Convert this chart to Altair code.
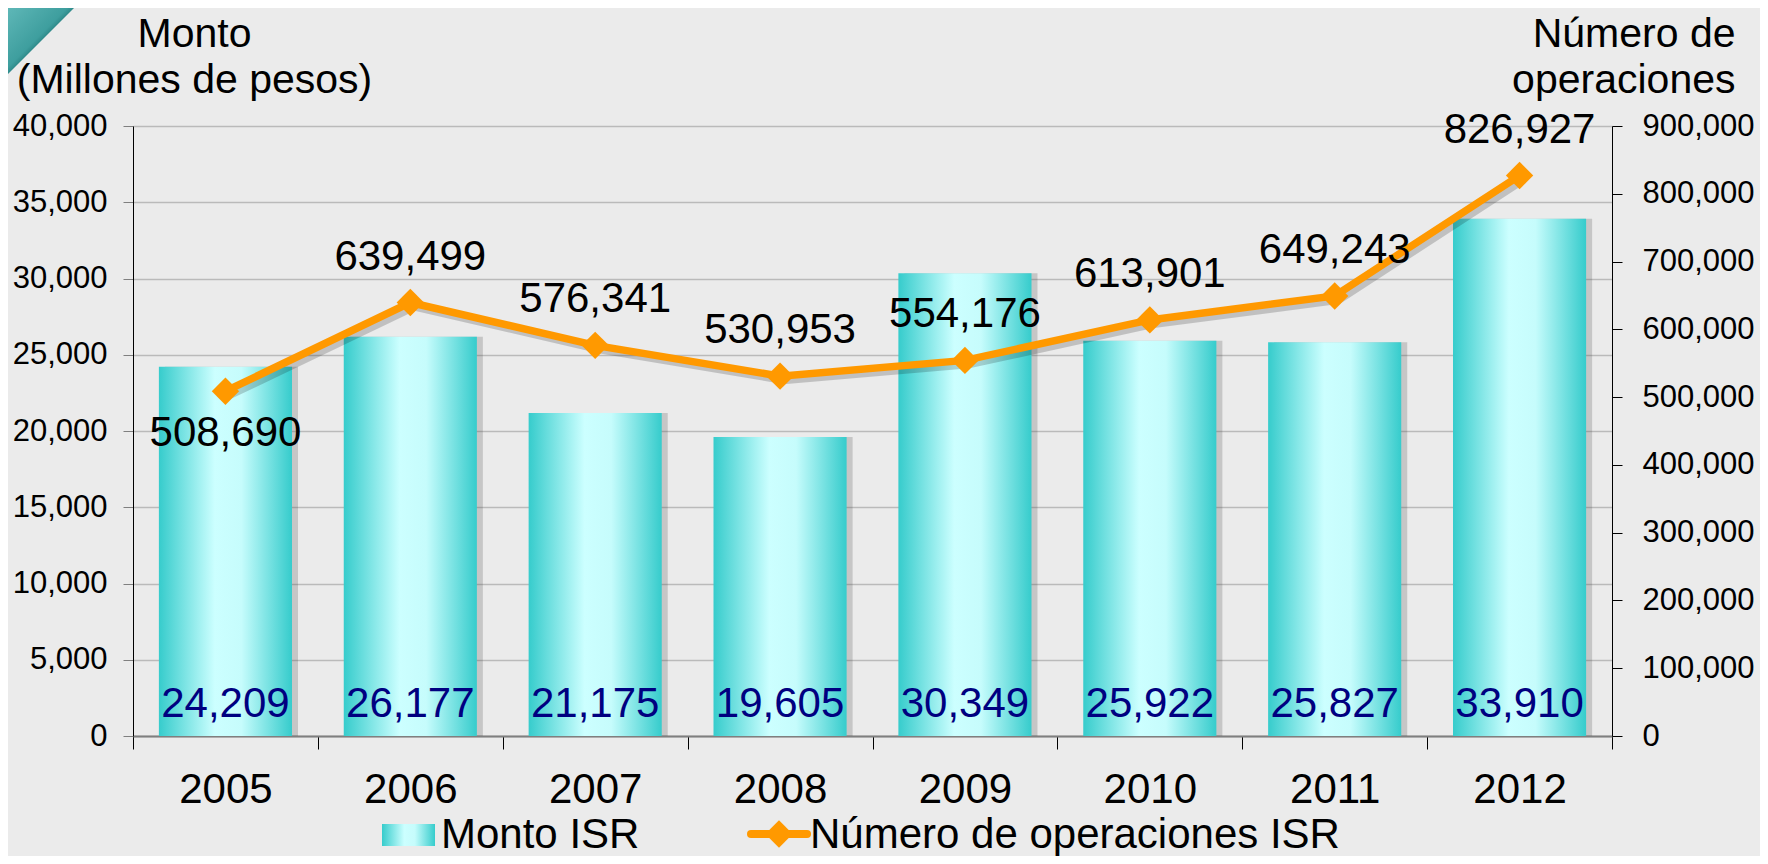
import altair as alt
import pandas as pd

years = ["2005", "2006", "2007", "2008", "2009", "2010", "2011", "2012"]
monto = [24209, 26177, 21175, 19605, 30349, 25922, 25827, 33910]
operaciones = [508690, 639499, 576341, 530953, 554176, 613901, 649243, 826927]
label_side = ["below", "above", "above", "above", "above", "above", "above", "above"]

df = pd.DataFrame({"year": years, "monto": monto, "ops": operaciones, "side": label_side})
one = pd.DataFrame({"k": [0]})

FONT = "Liberation Sans"
ORANGE = "#FF9900"

bar_gradient = alt.Gradient(
    gradient="linear", x1=0, x2=1, y1=0, y2=0,
    stops=[
        alt.GradientStop(offset=0, color="#36CCCC"),
        alt.GradientStop(offset=0.42, color="#CCFFFF"),
        alt.GradientStop(offset=0.62, color="#C6FCFC"),
        alt.GradientStop(offset=1, color="#36CCCC"),
    ],
)
corner_gradient = alt.Gradient(
    gradient="linear", x1=0, x2=1, y1=0, y2=1,
    stops=[
        alt.GradientStop(offset=0, color="#5FB8B8"),
        alt.GradientStop(offset=0.45, color="#3E9E9E"),
        alt.GradientStop(offset=0.5, color="#2E8A8A"),
        alt.GradientStop(offset=1, color="#2E8A8A"),
    ],
)

x_enc = alt.X(
    "year:N", sort=years,
    scale=alt.Scale(paddingInner=0, paddingOuter=0),
    axis=alt.Axis(title=None, labelFontSize=42, labelAngle=0, tickBand="extent",
                  tickSize=13, tickColor="black", domainColor="#7f7f7f", domainWidth=2,
                  labelPadding=20, labelColor="black", grid=False, labelFont=FONT),
)

y_left = alt.Y(
    "monto:Q",
    scale=alt.Scale(domain=[0, 40000], nice=False),
    axis=alt.Axis(title=["Monto", "(Millones de pesos)"], titleAngle=0, titleAlign="center",
                  titleBaseline="alphabetic", titleX=61, titleY=-80, titleFontSize=41,
                  titleFontWeight="normal", titleLineHeight=46, titleColor="black", titleFont=FONT,
                  tickCount=8, format=",.0f", labelFontSize=31, labelPadding=16, labelColor="black",
                  labelFont=FONT, tickSize=10, tickColor="#7f7f7f", domainColor="black",
                  grid=True, gridColor="#BABABA", gridWidth=1.5),
)

y_right = alt.Y(
    "ops:Q",
    scale=alt.Scale(domain=[0, 900000], nice=False),
    axis=alt.Axis(orient="right", title=["Número de", "operaciones"], titleAngle=0, titleAlign="right",
                  titleBaseline="alphabetic", titleX=123, titleY=-80, titleFontSize=41,
                  titleFontWeight="normal", titleLineHeight=46, titleColor="black", titleFont=FONT,
                  tickCount=9, format=",.0f", labelFontSize=31, labelPadding=20, labelColor="black",
                  labelFont=FONT, tickSize=10, tickColor="black", domainColor="black", grid=False),
)

base = alt.Chart(df)

bar_shadow = base.mark_bar(width=alt.RelativeBandSize(0.72), xOffset=6, color="#444444", opacity=0.22).encode(x=x_enc, y=y_left)
bars = base.mark_bar(width=alt.RelativeBandSize(0.72), fill=bar_gradient, strokeWidth=0).encode(x=x_enc, y=y_left)
bar_labels = base.mark_text(baseline="alphabetic", dy=-19, fontSize=42, color="#000080", font=FONT).encode(
    x=x_enc, y=alt.YDatum(0), text=alt.Text("monto:Q", format=",")
)
left = alt.layer(bar_shadow, bars, bar_labels)

line_shadow = base.mark_line(color="#000000", opacity=0.18, strokeWidth=8, xOffset=4, yOffset=4).encode(x=x_enc, y=y_right)
line = base.mark_line(color=ORANGE, strokeWidth=7.5).encode(x=x_enc, y=y_right)
points = base.mark_point(shape="diamond", filled=True, size=750, color=ORANGE, opacity=1).encode(x=x_enc, y=y_right)
lab_above = base.transform_filter(alt.datum.side == "above").mark_text(
    baseline="alphabetic", dy=-33, fontSize=42, color="black", font=FONT
).encode(x=x_enc, y=y_right, text=alt.Text("ops:Q", format=","))
lab_below = base.transform_filter(alt.datum.side == "below").mark_text(
    baseline="alphabetic", dy=55, fontSize=42, color="black", font=FONT
).encode(x=x_enc, y=y_right, text=alt.Text("ops:Q", format=","))
right = alt.layer(line_shadow, line, points, lab_above, lab_below)

leg = alt.Chart(one)
corner = leg.mark_point(shape="M -1 -1 L 1 -1 L -1 1 Z", filled=True, size=4500, fill=corner_gradient,
                        opacity=1, strokeWidth=0).encode(x=alt.value(-92), y=alt.value(-85))
leg_rect = leg.mark_rect(fill=bar_gradient).encode(
    x=alt.value(249), x2=alt.value(302), y=alt.value(698), y2=alt.value(720)
)
leg_text1 = leg.mark_text(align="left", baseline="alphabetic", fontSize=42, font=FONT, color="black").encode(
    x=alt.value(308), y=alt.value(722), text=alt.value("Monto ISR")
)
leg_rule = leg.mark_rule(color=ORANGE, strokeWidth=8, strokeCap="round").encode(
    x=alt.value(618), x2=alt.value(674), y=alt.value(708)
)
leg_pt = leg.mark_point(shape="diamond", filled=True, size=750, color=ORANGE, opacity=1).encode(
    x=alt.value(646), y=alt.value(708)
)
leg_text2 = leg.mark_text(align="left", baseline="alphabetic", fontSize=42, font=FONT, color="black").encode(
    x=alt.value(677), y=alt.value(722), text=alt.value("Número de operaciones ISR")
)

chart = alt.layer(corner, left, right, leg_rect, leg_text1, leg_rule, leg_pt, leg_text2).resolve_scale(
    y="independent"
).properties(
    width=1479, height=610,
    autosize=alt.AutoSizeParams(type="none"),
    padding={"left": 125, "top": 118, "right": 148, "bottom": 120},
    background="#EBEBEB",
).configure_view(stroke=None).configure(font=FONT)

chart.save("out.html", embed_options={"renderer": "svg", "actions": False})
